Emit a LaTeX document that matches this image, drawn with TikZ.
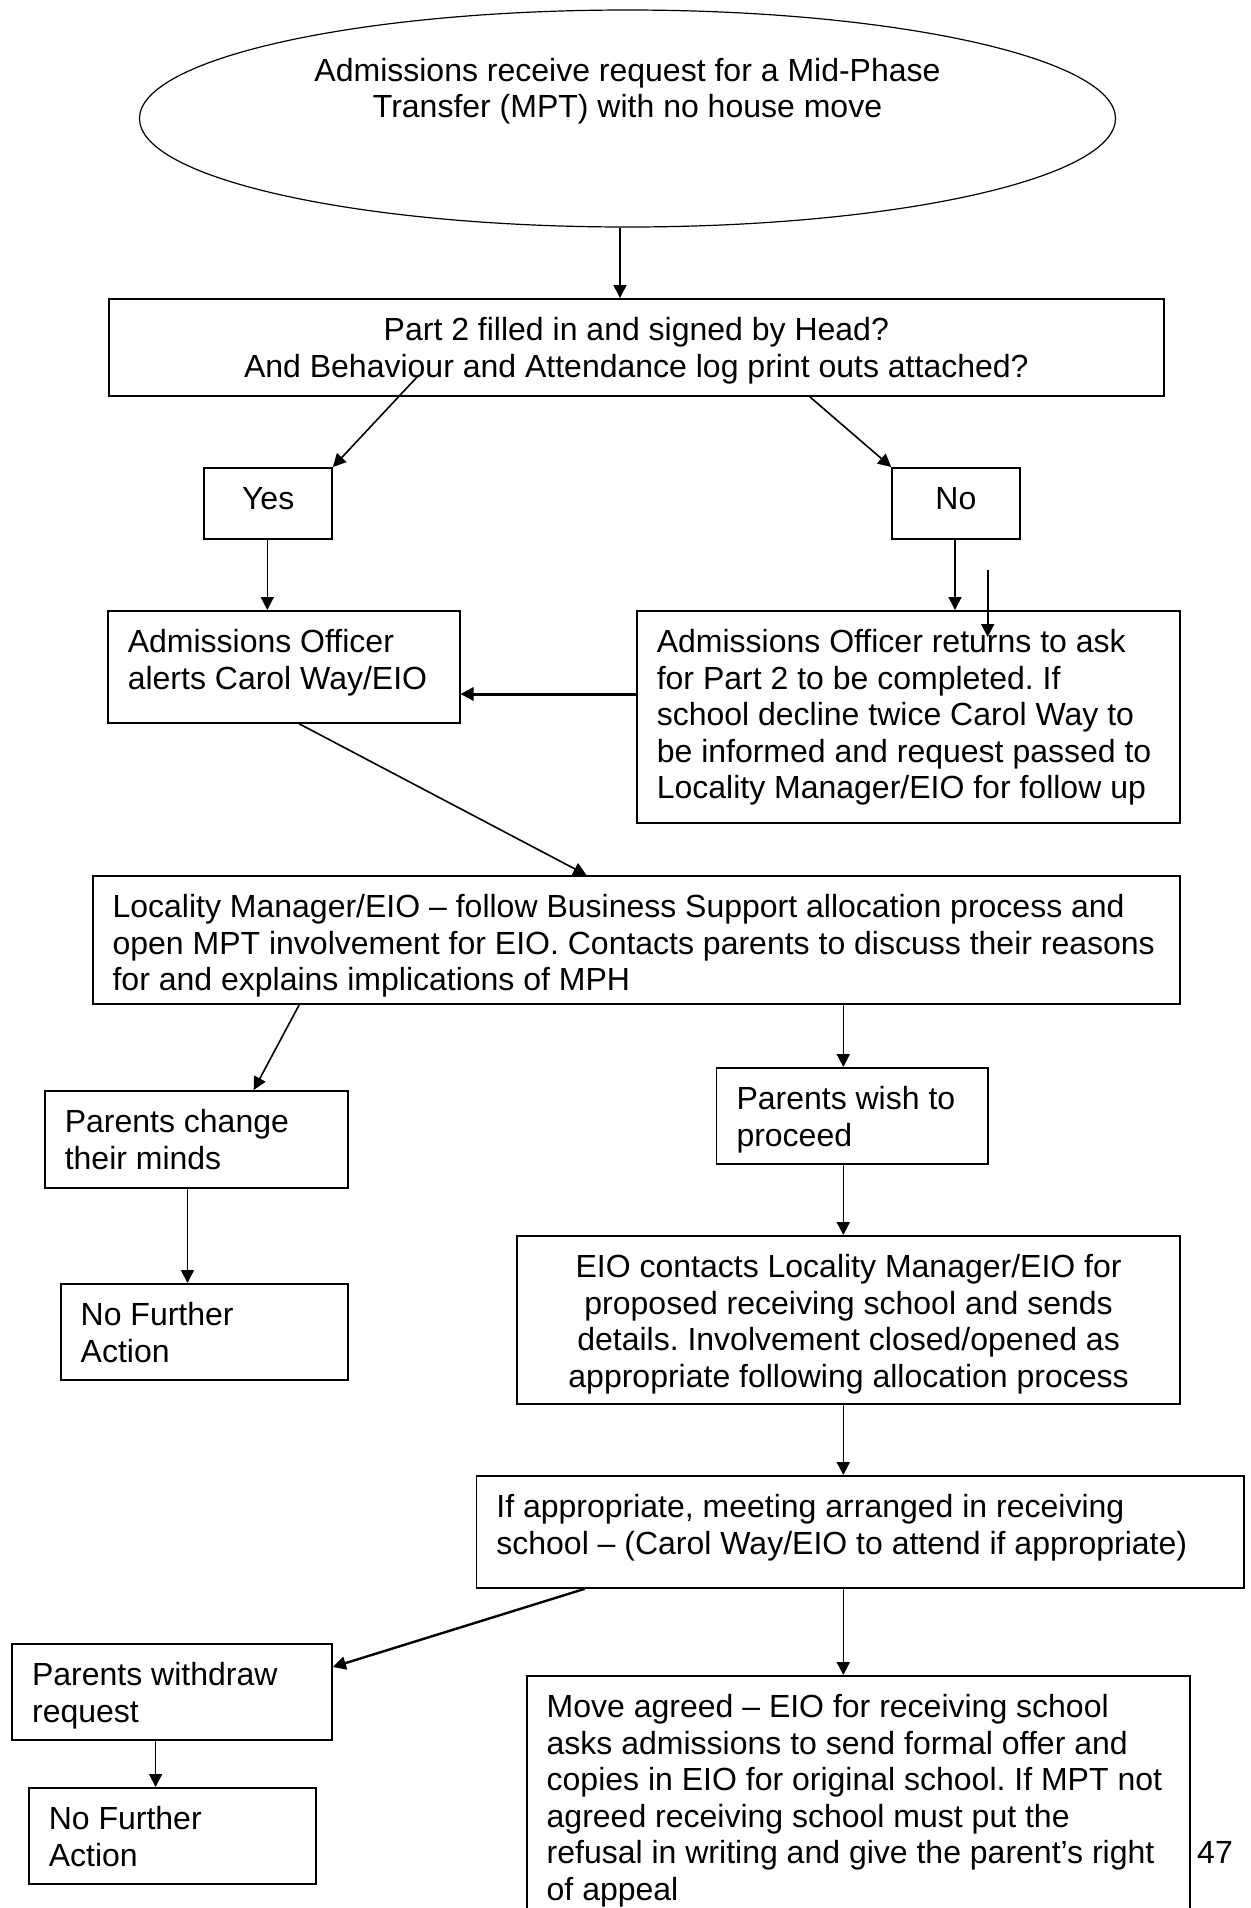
\documentclass[tikz,border=0pt]{standalone}
\usepackage{fontspec}
\setmainfont{Liberation Sans}
\usetikzlibrary{arrows.meta,shapes.geometric}
\frenchspacing
\newcommand{\ltext}[3]{\parbox[c][#2pt][t]{#1pt}{\raggedright\strut #3}}
\newcommand{\ctext}[3]{\parbox[c][#2pt][t]{#1pt}{\centering\strut #3}}

\begin{document}
\begin{tikzpicture}
		[x=0.5pt,y=-0.5pt]
		\tikzstyle{every node}=[font=\fontsize{16}{18.3}\selectfont]
		\tikzstyle{stepbox}=[draw, rectangle, anchor=north west, line width=0.9pt,
		inner xsep=10pt, inner ysep=8pt]
		\tikzstyle{arr}=[-{Triangle[length=6.5pt,width=6.5pt]}, line width=0.8pt]

		\useasboundingbox (0,0) rectangle (1251,1908);
		\clip (0,0) rectangle (1251,1908);

		%-----start
		 \node[ellipse, draw, line width=0.6pt, minimum width=488pt, minimum height=108.5pt, inner sep=0pt]
		   (request) at (627.5,118.5) {\ctext{320}{63.1}{Admissions receive request for a Mid-Phase\\Transfer (MPT) with no house move}};
		 \node[stepbox] (question) at (107.7,298) {\ctext{507.75}{32.5}{Part 2 filled in and signed by Head?\\And Behaviour and Attendance log print outs attached?}};
		 \node[stepbox] (yes) at (203.4,467) {\ctext{43.85}{19.5}{Yes}};
		 \node[stepbox] (no) at (891.2,467) {\ctext{43.8}{19.5}{No}};
		%-----officer
		 \node[stepbox] (officer) at (106.9,610) {\ltext{155.9}{40}{Admissions Officer\\alerts Carol Way/EIO}};
		 \node[stepbox] (returns) at (635.9,610) {\ltext{251.65}{90}{Admissions Officer returns to ask\\for Part 2 to be completed. If\\school decline twice Carol Way to\\be informed and request passed to\\Locality Manager/EIO for follow up}};
		 \node[stepbox] (locality) at (91.7,875) {\ltext{523.75}{48}{Locality Manager/EIO -- follow Business Support allocation process and\\open MPT involvement for EIO. Contacts parents to discuss their reasons\\for and explains implications of MPH}};
		%-----parents
		 \node[stepbox] (change) at (43.9,1090) {\ltext{131.55}{32.5}{Parents change\\their minds}};
		 \node[stepbox] (nfaA) at (59.8,1283) {\ltext{123.6}{32}{No Further\\Action}};
		 \node[stepbox] (proceed) at (715.6,1067) {\ltext{115.65}{32}{Parents wish to\\proceed}};
		 \node[stepbox] (contacts) at (516.2,1235) {\ctext{311.5}{68}{EIO contacts Locality Manager/EIO for\\proposed receiving school and sends\\details. Involvement closed/opened as\\appropriate following allocation process}};
		 \node[stepbox] (meeting) at (475.5,1475) {\ltext{363.75}{40}{If appropriate, meeting arranged in receiving\\school -- (Carol Way/EIO to attend if appropriate)}};
		 \node[stepbox] (withdraw) at (11.2,1643) {\ltext{139.95}{32}{Parents withdraw\\request}};
		 \node[stepbox] (nfaB) at (27.9,1787) {\ltext{123.6}{32}{No Further\\Action}};
		 \node[stepbox] (agreed) at (525.8,1675) {\ltext{311.5}{114}{Move agreed -- EIO for receiving school\\asks admissions to send formal offer and\\copies in EIO for original school. If MPT not\\agreed receiving school must put the\\refusal in writing and give the parent’s right\\of appeal}};
		 \node (pagenum) at (1215,1852) {47};

		 \coordinate (sa) at (987.7,570);
		 \coordinate (sb) at (987.7,637);

		 \foreach \x/\from/\to in {620/request/question, 267.3/yes/officer, 955/no/returns, 187.5/change/nfaA,
		   843.3/locality/proceed, 843.3/proceed/contacts, 843.3/contacts/meeting, 155.6/withdraw/nfaB, 843.3/meeting/agreed}
		 \draw[arr] (\x,0 |- \from.south) -- (\x,0 |- \to.north);

		 \draw[arr] (418.9,375) -- (yes.north east);
		 \draw[arr] (809.8,0 |- question.south) -- (no.north west);
		 \draw[arr] (sa) -- (sb);
		 \draw[arr, line width=1.5pt] (returns.west |- 0,694) -- (officer.east |- 0,694);
		 \draw[arr] (299.2,0 |- officer.south) -- (586.4,0 |- locality.north);
		 \draw[arr] (299.2,0 |- locality.south) -- (253.7,0 |- change.north);
		 \draw[arr, line width=1.2pt] (584.8,0 |- meeting.south) -- (withdraw.east |- 0,1667);

\end{tikzpicture}
\end{document}
